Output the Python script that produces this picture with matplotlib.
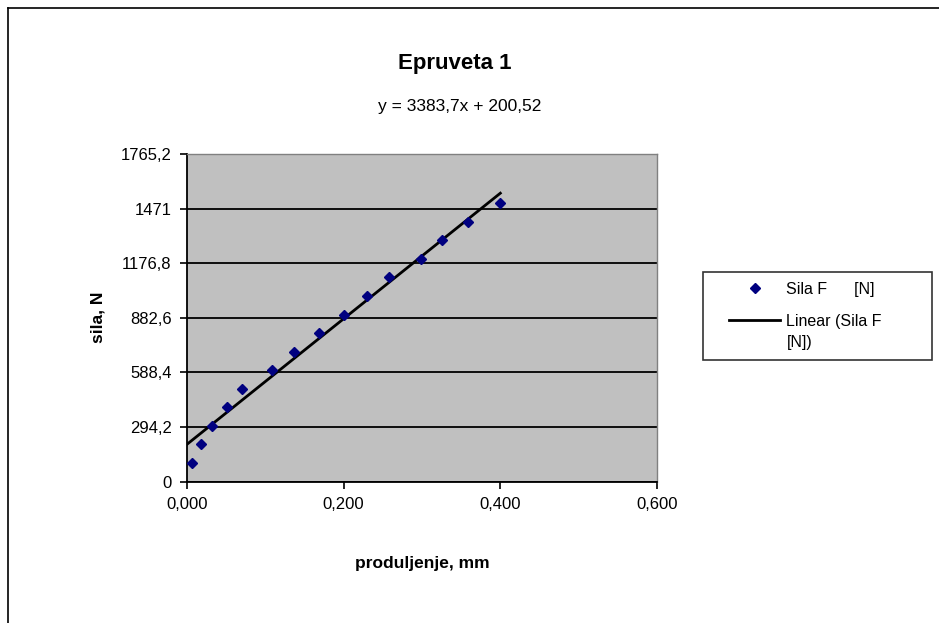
import numpy as np
import matplotlib
matplotlib.use('Agg')
import matplotlib.pyplot as plt
from matplotlib.lines import Line2D
from matplotlib.legend_handler import HandlerLine2D

plt.rcParams['font.family'] = ['Liberation Sans', 'DejaVu Sans']

# podaci (produljenje u mm, sila u N)
produljenje = [0.006, 0.0175, 0.032, 0.0506, 0.0697, 0.108, 0.136, 0.169,
               0.200, 0.2297, 0.2577, 0.299, 0.326, 0.359, 0.400]
sila = [100, 200, 300, 400, 500, 600, 700, 800, 900, 1000, 1100, 1200,
        1300, 1400, 1500]

# linearni trend (koeficijenti s grafa)
nagib = 3383.7
odsjecak = 200.52

x_ticks = [0.0, 0.2, 0.4, 0.6]
x_labels = ['0,000', '0,200', '0,400', '0,600']
y_ticks = [0, 294.2, 588.4, 882.6, 1176.8, 1471, 1765.2]
y_labels = ['0', '294,2', '588,4', '882,6', '1176,8', '1471', '1765,2']


# simbol u legendi pomaknut udesno (i gore za dvoredni tekst)
class Pomak(HandlerLine2D):
    def __init__(self, dy=0.0, **kw):
        super().__init__(**kw)
        self.dy = dy

    def create_artists(self, legend, orig_handle, xdescent, ydescent,
                       width, height, fontsize, trans):
        s = 1.0*fontsize
        arts = super().create_artists(legend, orig_handle, xdescent, ydescent,
                                      width - s, height, fontsize, trans)
        for a in arts:
            a.set_xdata(np.asarray(a.get_xdata()) + s)
            a.set_ydata(np.asarray(a.get_ydata()) + self.dy*fontsize)
        return arts


fig = plt.figure(figsize=(9.39, 6.23), dpi=100)
ax = fig.add_axes([187/939, 1-481.5/623, 470/939, 327.5/623])
ax.set_facecolor('#C0C0C0')

# tocke
tocke, = ax.plot(produljenje, sila, 'D', color='#000080', ms=5.5, ls='none',
                 label='Sila F      [N]', zorder=3)

# trend linija
xt = np.array([0.0, max(produljenje)])
trend, = ax.plot(xt, nagib*xt + odsjecak, '-k', lw=2,
                 label='Linear (Sila F\n[N])', zorder=2)

ax.set_xlim(0, 0.6)
ax.set_ylim(0, 1765.2)
ax.set_xticks(x_ticks)
ax.set_xticklabels(x_labels, fontsize=12)
ax.set_yticks(y_ticks)
ax.set_yticklabels(y_labels, fontsize=12)
ax.tick_params(direction='out', length=5, width=1.2, colors='black', pad=6)
ax.yaxis.grid(True, color='black', lw=1.3)
ax.set_axisbelow(True)
for s in ['left', 'bottom']:
    ax.spines[s].set_color('black')
    ax.spines[s].set_linewidth(1.3)
for s in ['top', 'right']:
    ax.spines[s].set_color('#808080')
    ax.spines[s].set_linewidth(1)

ax.set_xlabel('produljenje, mm', fontsize=12.5, fontweight='bold', labelpad=32)
ax.set_ylabel('sila, N', fontsize=12.5, fontweight='bold', labelpad=11)

fig.text(455/939, 1-63/623, 'Epruveta 1', fontsize=16, fontweight='bold',
         ha='center', va='center')
fig.text(460/939, 1-106/623, 'y = 3383,7x + 200,52', fontsize=12.5,
         ha='center', va='center')

leg = fig.legend(handles=[tocke, trend], loc='upper left',
                 bbox_to_anchor=(703/939, 1-365/623, 229/939, 93/623),
                 mode='expand', borderaxespad=0, fontsize=11.5, frameon=True,
                 fancybox=False, edgecolor='black', handlelength=4.25,
                 borderpad=0.6, labelspacing=1.1, handletextpad=0.375,
                 handler_map={tocke: Pomak(), trend: Pomak(dy=0.8)})
leg.get_frame().set_linewidth(1.2)
for t in leg.get_texts():
    t.set_linespacing(1.5)

# okvir grafa
fig.add_artist(Line2D([8/939, 1.0], [1-8/623, 1-8/623], color='black', lw=1.2))
fig.add_artist(Line2D([8/939, 8/939], [0.0, 1-8/623], color='black', lw=1.2))

plt.savefig('out.png', dpi=100)
